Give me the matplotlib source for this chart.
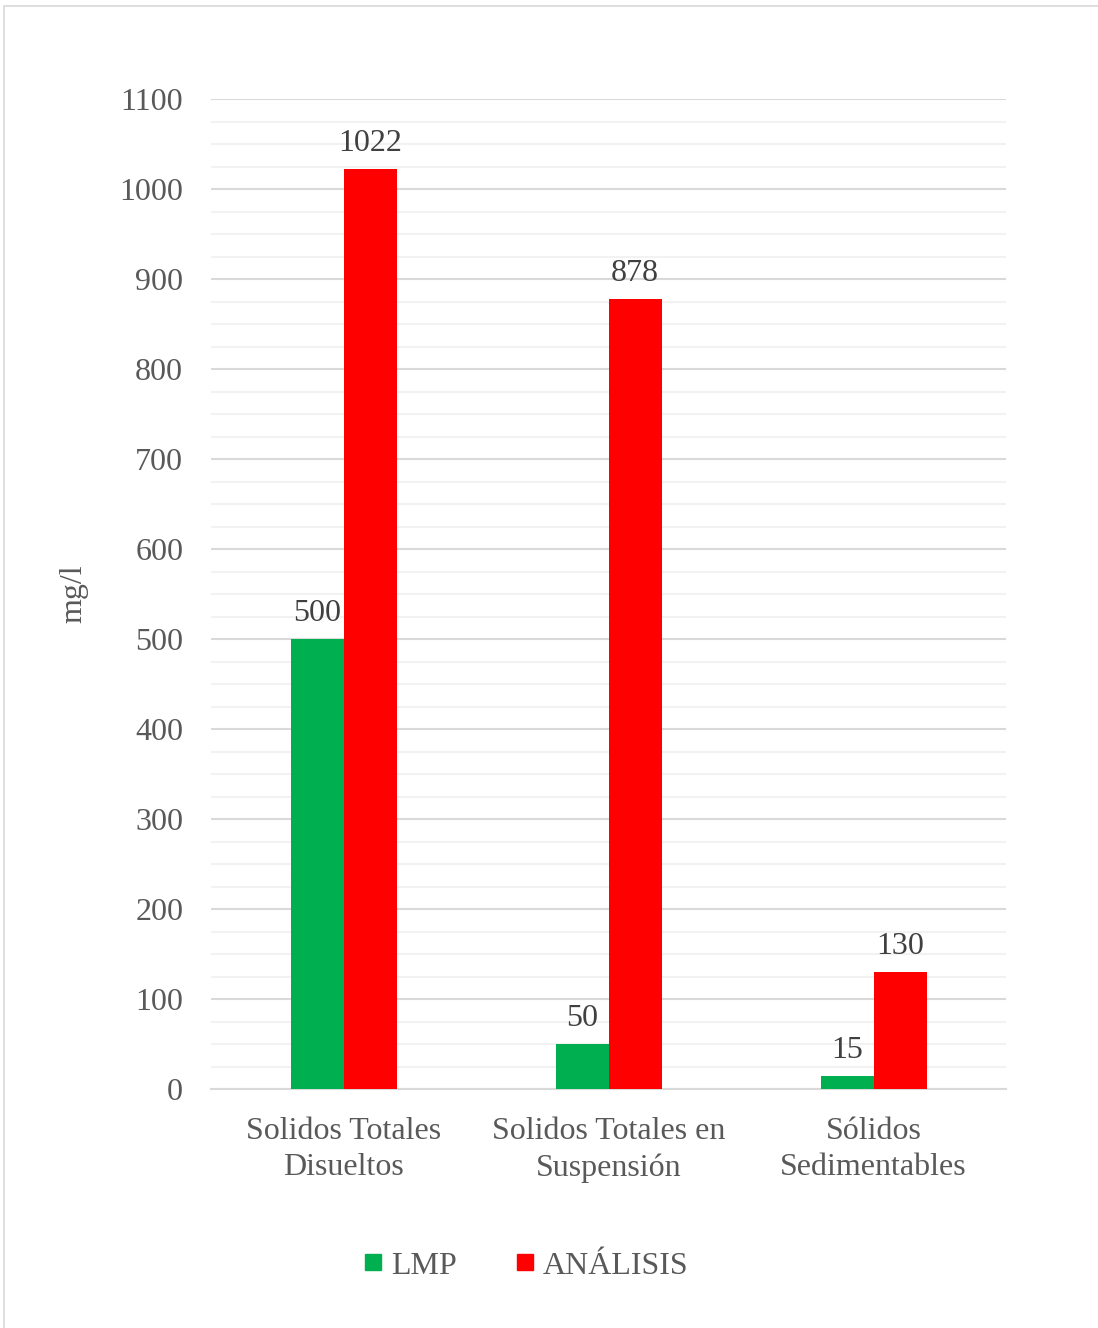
import numpy as np
import matplotlib.pyplot as plt
from matplotlib.patches import Rectangle
from matplotlib.lines import Line2D

categories = ["Solidos Totales\nDisueltos", "Solidos Totales en\nSuspensión", "Sólidos\nSedimentables"]
lmp = [500, 50, 15]
analisis = [1022, 878, 130]
series_names = ["LMP", "ANÁLISIS"]
colors = ["#00B050", "#FF0000"]

plt.rcParams['font.family'] = ['Liberation Serif', 'DejaVu Serif']
txt_color = "#595959"
fs = 23

fig = plt.figure(figsize=(10.98, 13.28), dpi=100)
ax = fig.add_axes([211/1098, 1 - 1089/1328, (1006-211)/1098, 990/1328])

# outer chart border (only left and top edges show)
fig.patches.append(Rectangle((4/1098, -0.1), 1.2, 1.1 - 6/1328, transform=fig.transFigure,
                             fill=False, edgecolor="#D9D9D9", linewidth=1.2, zorder=0))

x = np.arange(len(categories))
w = 0.2
b1 = ax.bar(x - w/2, lmp, w, color=colors[0], label=series_names[0], zorder=3)
b2 = ax.bar(x + w/2, analisis, w, color=colors[1], label=series_names[1], zorder=3)

for bars, vals in [(b1, lmp), (b2, analisis)]:
    for r, v in zip(bars, vals):
        ax.text(r.get_x() + r.get_width()/2, v + 12, str(v), ha="center", va="bottom",
                fontsize=fs, color="#404040")

ax.set_xlim(-0.5, 2.5)
ax.set_ylim(0, 1100)
ax.set_yticks(np.arange(0, 1101, 100))
ax.set_yticks(np.arange(0, 1101, 25), minor=True)
ax.grid(axis="y", which="major", color="#D9D9D9", linewidth=1.5, zorder=0)
ax.grid(axis="y", which="minor", color="#F2F2F2", linewidth=1.5, zorder=0)
ax.set_axisbelow(True)
for s in ["top", "right", "left"]:
    ax.spines[s].set_visible(False)
ax.spines["bottom"].set_color("#D9D9D9")
ax.spines["bottom"].set_linewidth(1.5)
ax.tick_params(axis="both", which="both", length=0, labelsize=fs, labelcolor=txt_color)
ax.tick_params(axis="y", pad=20)
ax.tick_params(axis="x", pad=20)
ax.set_xticks(x)
ax.set_xticklabels(categories, linespacing=1.35)
ax.set_ylabel("mg/l", fontsize=fs, color=txt_color, labelpad=22)

handles = [Line2D([0], [0], marker="s", linestyle="none", markersize=11,
                  markerfacecolor=c, markeredgecolor=c) for c in colors]
fig.legend(handles, series_names, loc="center", bbox_to_anchor=(527/1098, 1 - 1266/1328),
           ncol=2, frameon=False, fontsize=fs, labelcolor=txt_color,
           handlelength=0.5, handletextpad=0.3, columnspacing=1.9)

fig.savefig("out.png", dpi=100)
